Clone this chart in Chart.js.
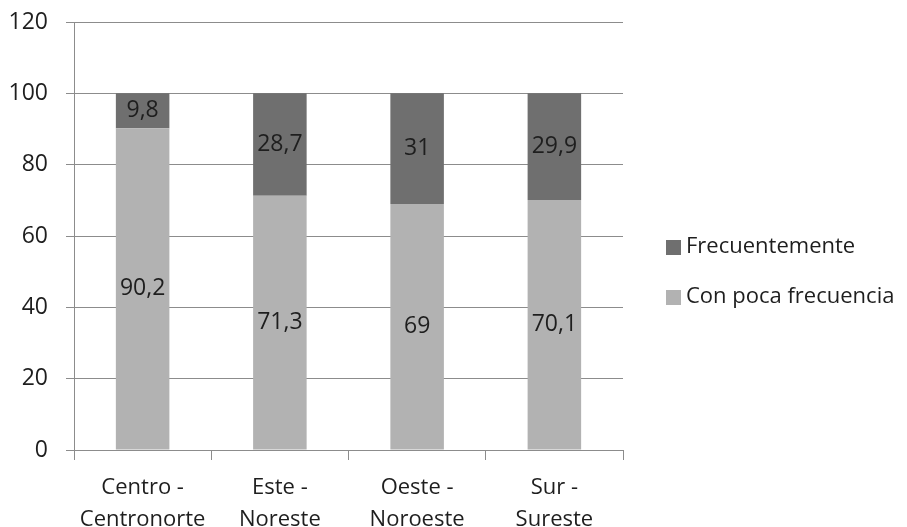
<!DOCTYPE html>
<html lang="es">
<head>
  <meta charset="UTF-8" />
  <title>Frecuencia por región</title>
  <script src="https://cdn.jsdelivr.net/npm/chart.js"></script>
  <style>
    html, body { margin: 0; padding: 0; background: #fff; }
    #wrap { width: 907px; height: 527px; position: relative; }
  </style>
</head>
<body>
  <div id="wrap"><canvas id="chart"></canvas></div>
  <script>
    const regions = [["Centro -", "Centronorte"], ["Este -", "Noreste"], ["Oeste -", "Noroeste"], ["Sur -", "Sureste"]];
    const seriesNames = ["Con poca frecuencia", "Frecuentemente"];
    const pocaFrecuencia = [90.2, 71.3, 69, 70.1];
    const frecuentemente = [9.8, 28.7, 31, 29.9];
    const yTicks = [0, 20, 40, 60, 80, 100, 120];

    const FONT = "'Open Sans', sans-serif";
    const TEXT = "#1e1e1e";
    const GRID = "#8c8c8c";

    // value labels centred in each segment, decimal comma
    const segmentLabels = {
      id: "segmentLabels",
      afterDatasetsDraw(chart) {
        const ctx = chart.ctx;
        ctx.save();
        ctx.font = "23px " + FONT;
        ctx.fillStyle = TEXT;
        ctx.textAlign = "center";
        ctx.textBaseline = "middle";
        chart.data.datasets.forEach((ds, i) => {
          chart.getDatasetMeta(i).data.forEach((bar, j) => {
            const y = (bar.y + bar.base) / 2;
            ctx.fillText(String(ds.data[j]).replace(".", ","), bar.x, y);
          });
        });
        ctx.restore();
      }
    };

    // legend on the right, "Frecuentemente" first
    const sideLegend = {
      id: "sideLegend",
      afterDraw(chart) {
        const ctx = chart.ctx;
        const area = chart.chartArea;
        ctx.save();
        ctx.font = "22px " + FONT;
        ctx.textBaseline = "middle";
        ctx.textAlign = "left";
        const order = [1, 0];
        order.forEach((di, k) => {
          const ds = chart.data.datasets[di];
          const cy = 247 + k * 50;
          const x = area.right + 43;
          ctx.fillStyle = ds.backgroundColor;
          ctx.fillRect(x, cy - 7, 15, 15);
          ctx.fillStyle = TEXT;
          ctx.fillText(ds.label, x + 20, cy);
        });
        ctx.restore();
      }
    };

    function noPad(scale) {
      scale.paddingTop = 0;
      scale.paddingBottom = 0;
      scale.paddingLeft = 0;
      scale.paddingRight = 0;
    }

    new Chart(document.getElementById("chart"), {
      type: "bar",
      data: {
        labels: regions,
        datasets: [
          { label: seriesNames[0], data: pocaFrecuencia, backgroundColor: "#b2b2b2" },
          { label: seriesNames[1], data: frecuentemente, backgroundColor: "#6f6f6f" }
        ]
      },
      options: {
        responsive: true,
        maintainAspectRatio: false,
        animation: false,
        layout: { padding: { left: 0, top: 22, right: 284, bottom: 0 } },
        datasets: { bar: { barPercentage: 0.39, categoryPercentage: 1 } },
        plugins: {
          legend: { display: false },
          tooltip: { enabled: false }
        },
        scales: {
          x: {
            stacked: true,
            offset: true,
            afterFit(scale) { scale.height = 77; noPad(scale); },
            grid: {
              offset: true,
              drawOnChartArea: false,
              drawTicks: true,
              tickLength: 10,
              color: GRID,
              lineWidth: 1
            },
            border: { color: GRID, width: 1 },
            ticks: {
              color: TEXT,
              font: { family: FONT, size: 22, lineHeight: 1.45 },
              padding: 12,
              maxRotation: 0
            }
          },
          y: {
            stacked: true,
            min: 0,
            max: 120,
            afterFit(scale) { scale.width = 74; noPad(scale); },
            afterBuildTicks(scale) { scale.ticks = yTicks.map(v => ({ value: v })); },
            grid: {
              color: GRID,
              lineWidth: 1,
              tickLength: 8
            },
            border: { color: GRID, width: 1 },
            ticks: {
              color: TEXT,
              font: { family: FONT, size: 23 },
              padding: 18
            }
          }
        }
      },
      plugins: [segmentLabels, sideLegend]
    });
  </script>
</body>
</html>
